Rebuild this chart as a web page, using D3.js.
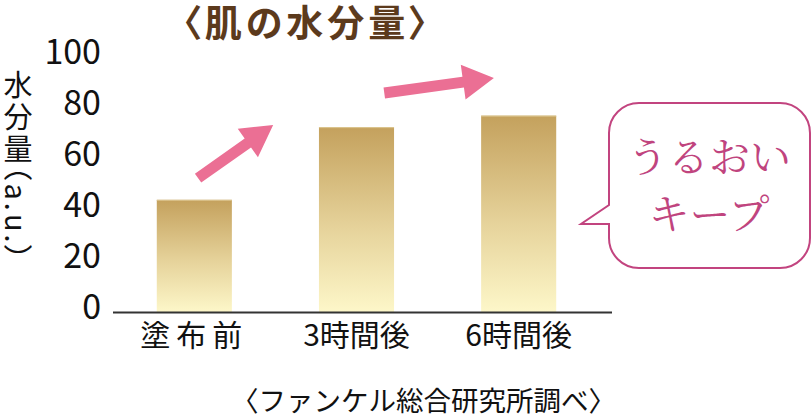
<!DOCTYPE html>
<html lang="ja">
<head>
<meta charset="UTF-8">
<title>肌の水分量</title>
<script src="https://cdn.jsdelivr.net/npm/d3@7"></script>
<style>
    body { margin: 0; background: #fff; }
    text { font-family: "Noto Sans CJK JP", "Noto Sans", sans-serif; }
</style>
</head>
<body>
<div id="chart"></div>
<script>
    // データ
    var categories = ["塗布前", "3時間後", "6時間後"];
    var values = [44, 72.5, 77];
    var yTicks = [0, 20, 40, 60, 80, 100];
    var title = "〈肌の水分量〉";
    var yLabel = "水分量（a.u.）";
    var note = "〈ファンケル総合研究所調べ〉";
    var calloutLines = ["うるおい", "キープ"];

    var width = 812;
    var height = 420;

    var svg = d3.select("#chart")
            .append("svg")
            .attr("width", width)
            .attr("height", height);

    var xScale = d3.scaleBand()
            .domain(categories)
            .range([113, 600])
            .paddingInner(0.537)
            .paddingOuter(0.27);

    var yScale = d3.scaleLinear()
            .domain([0, 100])
            .range([312, 57]);

    // グラデーション
    var grad = svg.append("defs")
            .append("linearGradient")
            .attr("id", "barGrad")
            .attr("x1", 0).attr("y1", 0)
            .attr("x2", 0).attr("y2", 1);
    grad.append("stop").attr("offset", "0%").attr("stop-color", "#c4a15d");
    grad.append("stop").attr("offset", "55%").attr("stop-color", "#e6d39b");
    grad.append("stop").attr("offset", "100%").attr("stop-color", "#fdf7c9");

    // 棒
    svg.selectAll("rect.bar")
            .data(values)
            .enter()
            .append("rect")
            .attr("class", "bar")
            .attr("fill", "url(#barGrad)")
            .attr("x", function (d, i) { return xScale(categories[i]); })
            .attr("y", function (d) { return yScale(d); })
            .attr("width", xScale.bandwidth())
            .attr("height", function (d) { return yScale(0) - yScale(d); });

    // 棒の上端の細い明るい線
    svg.selectAll("line.bartop")
            .data(values)
            .enter()
            .append("line")
            .attr("class", "bartop")
            .attr("x1", function (d, i) { return xScale(categories[i]); })
            .attr("x2", function (d, i) { return xScale(categories[i]) + xScale.bandwidth(); })
            .attr("y1", function (d) { return yScale(d) + 0.5; })
            .attr("y2", function (d) { return yScale(d) + 0.5; })
            .attr("stroke", "#dcc690")
            .attr("stroke-width", 1);

    // 横軸の線
    svg.append("line")
            .attr("x1", 113)
            .attr("x2", 612)
            .attr("y1", yScale(0) + 0.5)
            .attr("y2", yScale(0) + 0.5)
            .attr("stroke", "#333")
            .attr("stroke-width", 2);

    // 縦軸の目盛り
    svg.selectAll("text.ytick")
            .data(yTicks)
            .enter()
            .append("text")
            .attr("class", "ytick")
            .attr("x", 101)
            .attr("y", function (d) { return yScale(d) - 5; })
            .attr("dy", "0.36em")
            .attr("text-anchor", "end")
            .attr("font-size", 34)
            .attr("fill", "#111")
            .text(function (d) { return d; });

    // 横軸のラベル
    svg.selectAll("text.xlab")
            .data(categories)
            .enter()
            .append("text")
            .attr("class", "xlab")
            .attr("x", function (d) { return xScale(d) + xScale.bandwidth() / 2; })
            .attr("y", 346)
            .attr("text-anchor", "middle")
            .attr("font-size", 30)
            .attr("letter-spacing", function (d, i) { return i === 0 ? 6 : 0; })
            .attr("fill", "#111")
            .text(function (d) { return d; });

    // 縦軸タイトル（縦書き）
    svg.append("text")
            .attr("x", 18)
            .attr("y", 70)
            .style("writing-mode", "vertical-rl")
            .style("font-feature-settings", "'vpal'")
            .attr("font-size", 29)
            .attr("letter-spacing", 3)
            .attr("fill", "#111")
            .text(yLabel);

    // タイトル
    svg.append("text")
            .attr("x", 307)
            .attr("y", 37)
            .attr("text-anchor", "middle")
            .attr("font-size", 37)
            .attr("font-weight", "bold")
            .attr("letter-spacing", 4)
            .style("font-feature-settings", "'palt'")
            .attr("fill", "#5c3a1c")
            .text(title);

    // 注記
    svg.append("text")
            .attr("x", 616)
            .attr("y", 411)
            .attr("text-anchor", "end")
            .attr("font-size", 27.5)
            .attr("fill", "#111")
            .text(note);

    // 矢印（棒の位置から決める）
    var bw = xScale.bandwidth();
    var arrows = [
        {x1: xScale(categories[0]) + bw * 0.55, y1: yScale(52.5),
         x2: xScale(categories[1]) - bw * 0.61, y2: yScale(73.3)},
        {x1: xScale(categories[1]) + bw * 0.87, y1: yScale(85.9),
         x2: xScale(categories[2]) + bw * 0.17, y2: yScale(91.8)}
    ];

    function arrowPath(a) {
        var dx = a.x2 - a.x1, dy = a.y2 - a.y1;
        var len = Math.sqrt(dx * dx + dy * dy);
        var sw = 5.5, hw = 17.5, hl = 31;
        var pts = [[0, -sw], [len - hl, -sw], [len - hl, -hw], [len, 0],
                   [len - hl, hw], [len - hl, sw], [0, sw]];
        var ang = Math.atan2(dy, dx);
        var c = Math.cos(ang), s = Math.sin(ang);
        return "M" + pts.map(function (p) {
            return (a.x1 + p[0] * c - p[1] * s) + "," + (a.y1 + p[0] * s + p[1] * c);
        }).join("L") + "Z";
    }

    svg.selectAll("path.arrow")
            .data(arrows)
            .enter()
            .append("path")
            .attr("class", "arrow")
            .attr("fill", "#eb6f94")
            .attr("d", arrowPath);

    // 吹き出し
    var bx = 609, by = 103, bwid = 201, bh = 165, r = 30;
    var bubble = d3.path();
    bubble.moveTo(bx + r, by);
    bubble.lineTo(bx + bwid - r, by);
    bubble.arcTo(bx + bwid, by, bx + bwid, by + r, r);
    bubble.lineTo(bx + bwid, by + bh - r);
    bubble.arcTo(bx + bwid, by + bh, bx + bwid - r, by + bh, r);
    bubble.lineTo(bx + r, by + bh);
    bubble.arcTo(bx, by + bh, bx, by + bh - r, r);
    bubble.lineTo(bx, 224);
    bubble.lineTo(581, 224);
    bubble.lineTo(bx, 205);
    bubble.lineTo(bx, by + r);
    bubble.arcTo(bx, by, bx + r, by, r);
    bubble.closePath();

    svg.append("path")
            .attr("d", bubble.toString())
            .attr("fill", "#fff")
            .attr("stroke", "#c2447f")
            .attr("stroke-width", 2);

    svg.selectAll("text.callout")
            .data(calloutLines)
            .enter()
            .append("text")
            .attr("class", "callout")
            .attr("x", 709)
            .attr("y", function (d, i) { return 172 + i * 57; })
            .attr("text-anchor", "middle")
            .attr("font-size", 41)
            .attr("fill", "#c0447e")
            .style("font-family", "'Noto Serif CJK JP', 'Noto Sans CJK JP', serif")
            .text(function (d) { return d; });
</script>
</body>
</html>
